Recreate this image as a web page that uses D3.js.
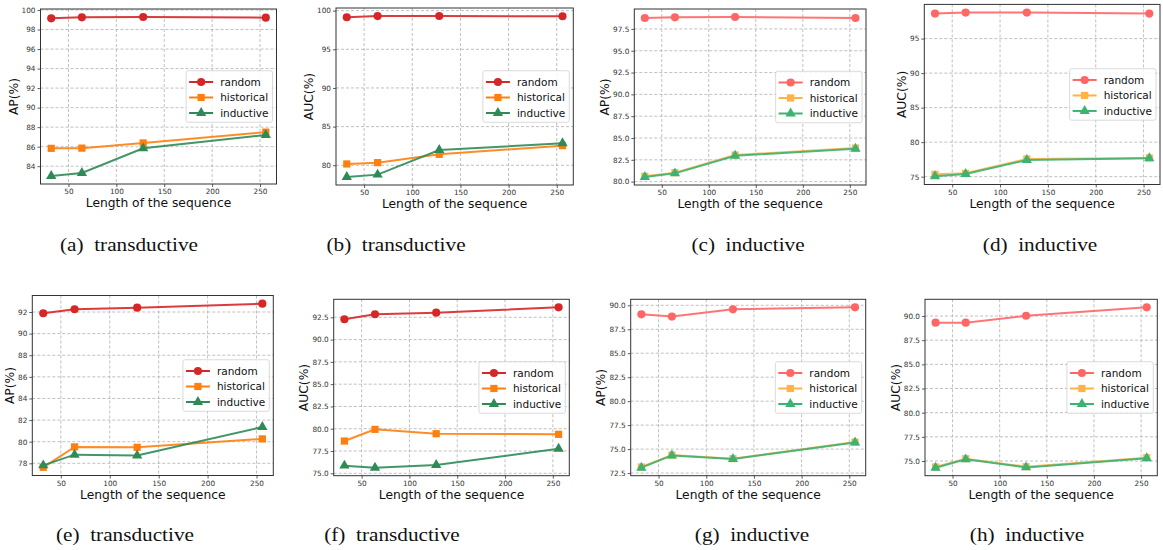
<!DOCTYPE html>
<html>
<head>
<meta charset="utf-8">
<script src="https://cdn.jsdelivr.net/npm/d3@7"></script>
<style>
  html, body { margin: 0; padding: 0; background: #fff; }
  svg { display: block; }
</style>
</head>
<body>
<svg id="chart" width="1163" height="550"></svg>
<script>
// ---------------- DATA ----------------
const seqLen = [32, 64, 128, 256];
const seriesNames = ["random", "historical", "inductive"];
const xTicks = [50, 100, 150, 200, 250];

const a_random = [99.15, 99.25, 99.29, 99.22];
const a_historical = [85.83, 85.85, 86.38, 87.49];
const a_inductive = [82.99, 83.30, 85.83, 87.19];
const a_yticks = [84, 86, 88, 90, 92, 94, 96, 98, 100];

const b_random = [99.14, 99.29, 99.30, 99.27];
const b_historical = [80.17, 80.34, 81.42, 82.54];
const b_inductive = [78.49, 78.79, 81.98, 82.84];
const b_yticks = [80, 85, 90, 95, 100];

const c_random = [98.76, 98.83, 98.87, 98.76];
const c_historical = [80.61, 81.03, 83.05, 83.85];
const c_inductive = [80.53, 80.95, 82.97, 83.77];
const c_yticks = [80.0, 82.5, 85.0, 87.5, 90.0, 92.5, 95.0, 97.5];

const d_random = [98.62, 98.77, 98.77, 98.62];
const d_historical = [75.34, 75.48, 77.56, 77.71];
const d_inductive = [75.05, 75.39, 77.42, 77.66];
const d_yticks = [75, 80, 85, 90, 95];

const e_random = [91.88, 92.25, 92.40, 92.77];
const e_historical = [77.63, 79.52, 79.48, 80.26];
const e_inductive = [77.81, 78.80, 78.73, 81.36];
const e_yticks = [78, 80, 82, 84, 86, 88, 90, 92];

const f_random = [92.28, 92.84, 93.02, 93.62];
const f_historical = [78.62, 79.93, 79.44, 79.37];
const f_inductive = [75.86, 75.63, 75.93, 77.76];
const f_yticks = [75.0, 77.5, 80.0, 82.5, 85.0, 87.5, 90.0, 92.5];

const g_random = [89.06, 88.82, 89.58, 89.79];
const g_historical = [73.13, 74.38, 74.00, 75.73];
const g_inductive = [73.06, 74.34, 73.96, 75.69];
const g_yticks = [72.5, 75.0, 77.5, 80.0, 82.5, 85.0, 87.5, 90.0];

const h_random = [89.31, 89.31, 90.03, 90.90];
const h_historical = [74.38, 75.24, 74.41, 75.34];
const h_inductive = [74.31, 75.17, 74.34, 75.28];
const h_yticks = [75.0, 77.5, 80.0, 82.5, 85.0, 87.5, 90.0];

const captions = ["(a)", "(b)", "(c)", "(d)", "(e)", "(f)", "(g)", "(h)"];
const settings = ["transductive", "transductive", "inductive", "inductive",
                  "transductive", "transductive", "inductive", "inductive"];
const metrics = ["AP(%)", "AUC(%)", "AP(%)", "AUC(%)", "AP(%)", "AUC(%)", "AP(%)", "AUC(%)"];
const xTitle = "Length of the sequence";

// ---------------- STYLE / LAYOUT ----------------
const palettes = {
  dark:  { random: "#d62728", historical: "#ff7f0e", inductive: "#2e8b57" },
  light: { random: "#ff6666", historical: "#ffb347", inductive: "#3cb371" }
};
const markers = { random: d3.symbolCircle, historical: d3.symbolSquare, inductive: d3.symbolTriangle };
const markerSize = { random: 52, historical: 52, inductive: 46 };

const panels = [
  { data: [a_random, a_historical, a_inductive], yticks: a_yticks, fmt: "d",   pal: "dark",  rect: [40.5, 9, 276.5, 184],   cap: [129, 251] },
  { data: [b_random, b_historical, b_inductive], yticks: b_yticks, fmt: "d",   pal: "dark",  rect: [336, 8, 573.3, 185],    cap: [396, 251] },
  { data: [c_random, c_historical, c_inductive], yticks: c_yticks, fmt: ".1f", pal: "light", rect: [634.3, 9, 866, 185],    cap: [748, 251] },
  { data: [d_random, d_historical, d_inductive], yticks: d_yticks, fmt: "d",   pal: "light", rect: [924.3, 4.4, 1160, 184.5], cap: [1040, 251] },
  { data: [e_random, e_historical, e_inductive], yticks: e_yticks, fmt: "d",   pal: "dark",  rect: [32.3, 295.5, 273.3, 475.5], cap: [125, 541] },
  { data: [f_random, f_historical, f_inductive], yticks: f_yticks, fmt: ".1f", pal: "dark",  rect: [333.7, 299.3, 569.3, 475.7], cap: [392, 541] },
  { data: [g_random, g_historical, g_inductive], yticks: g_yticks, fmt: ".1f", pal: "light", rect: [630.7, 299.3, 865.7, 475.7], cap: [752, 541] },
  { data: [h_random, h_historical, h_inductive], yticks: h_yticks, fmt: ".1f", pal: "light", rect: [925, 299.3, 1157.3, 475.7],  cap: [1027, 541] }
];

const svg = d3.select("#chart");
const sans = "'DejaVu Sans', sans-serif";

function autoDomain(vals) {
  const [lo, hi] = d3.extent(vals);
  const m = (hi - lo) * 0.05;
  return [lo - m, hi + m];
}

panels.forEach((p, i) => {
  const [x0, y0, x1, y1] = p.rect;
  const colors = palettes[p.pal];
  const x = d3.scaleLinear().domain(autoDomain(seqLen)).range([x0, x1]);
  const y = d3.scaleLinear().domain(autoDomain(p.data.flat())).range([y1, y0]);
  const g = svg.append("g");

  // grid
  g.append("g").selectAll("line").data(p.yticks).join("line")
    .attr("x1", x0).attr("x2", x1).attr("y1", d => y(d)).attr("y2", d => y(d))
    .attr("stroke", "#b0b0b0").attr("stroke-width", 0.8).attr("stroke-dasharray", "3,2");
  g.append("g").selectAll("line").data(xTicks).join("line")
    .attr("y1", y0).attr("y2", y1).attr("x1", d => x(d)).attr("x2", d => x(d))
    .attr("stroke", "#b0b0b0").attr("stroke-width", 0.8).attr("stroke-dasharray", "3,2");

  // axes
  const xa = g.append("g").attr("transform", `translate(0,${y1})`)
    .call(d3.axisBottom(x).tickValues(xTicks).tickSize(3).tickPadding(2).tickFormat(d3.format("d")));
  const ya = g.append("g").attr("transform", `translate(${x0},0)`)
    .call(d3.axisLeft(y).tickValues(p.yticks).tickSize(3).tickPadding(2).tickFormat(d3.format(p.fmt)));
  [xa, ya].forEach(ax => {
    ax.select(".domain").remove();
    ax.selectAll(".tick line").attr("stroke", "#333").attr("stroke-width", 0.8);
    ax.selectAll(".tick text").attr("fill", "#333").style("font-family", sans).style("font-size", "7.3px");
  });

  // frame
  g.append("rect").attr("x", x0).attr("y", y0).attr("width", x1 - x0).attr("height", y1 - y0)
    .attr("fill", "none").attr("stroke", "#333").attr("stroke-width", 1);

  // series
  const line = d3.line().x((d, k) => x(seqLen[k])).y(d => y(d));
  seriesNames.forEach((s, si) => {
    const vals = p.data[si];
    g.append("path").datum(vals).attr("d", line)
      .attr("fill", "none").attr("stroke", colors[s]).attr("stroke-width", 2).attr("stroke-opacity", 0.9);
    g.append("g").selectAll("path").data(vals).join("path")
      .attr("transform", (d, k) => `translate(${x(seqLen[k])},${y(d)})`)
      .attr("d", d3.symbol().type(markers[s]).size(markerSize[s]))
      .attr("fill", colors[s]);
  });

  // axis titles
  g.append("text").attr("x", (x0 + x1) / 2).attr("y", y1 + 23)
    .attr("text-anchor", "middle").style("font-family", sans).style("font-size", "12.3px").attr("fill", "#111")
    .text(xTitle);
  let maxW = 0;
  ya.selectAll(".tick text").each(function () { maxW = Math.max(maxW, this.getComputedTextLength()); });
  const lx = x0 - 3 - 2 - maxW - 4;
  g.append("text").attr("transform", `translate(${lx},${(y0 + y1) / 2}) rotate(-90)`)
    .attr("text-anchor", "middle").style("font-family", sans).style("font-size", "12.3px").attr("fill", "#111")
    .text(metrics[i]);

  // legend (center right)
  const lg = g.append("g");
  const rowH = 15.5, fs = 10.5;
  const texts = seriesNames.map((s, si) => lg.append("text").text(s)
    .style("font-family", sans).style("font-size", fs + "px").attr("fill", "#111"));
  let tw = 0; texts.forEach(t => tw = Math.max(tw, t.node().getComputedTextLength()));
  const bw = 3 + 24 + 7 + tw + 4, bh = rowH * 3 + 5;
  const bx = x1 - 4 - bw, by = (y0 + y1) / 2 - bh / 2;
  lg.insert("rect", ":first-child").attr("x", bx).attr("y", by).attr("width", bw).attr("height", bh)
    .attr("rx", 2).attr("fill", "#fff").attr("fill-opacity", 0.85).attr("stroke", "#d0d0d0").attr("stroke-width", 0.8);
  seriesNames.forEach((s, si) => {
    const cy = by + 2.5 + rowH * (si + 0.5) + 1;
    lg.append("line").attr("x1", bx + 3).attr("x2", bx + 27).attr("y1", cy).attr("y2", cy)
      .attr("stroke", colors[s]).attr("stroke-width", 2);
    lg.append("path").attr("transform", `translate(${bx + 15},${cy})`)
      .attr("d", d3.symbol().type(markers[s]).size(markerSize[s])).attr("fill", colors[s]);
    texts[si].attr("x", bx + 34).attr("y", cy + 3.8);
  });

  // caption
  const cap = svg.append("text")
    .attr("transform", `translate(${p.cap[0]},${p.cap[1]}) scale(1.18,1)`)
    .attr("text-anchor", "middle").style("font-family", "'Liberation Serif', serif").style("font-size", "18px")
    .attr("fill", "#111");
  cap.append("tspan").text(captions[i] + "\u00a0\u00a0" + settings[i]);
});
</script>
</body>
</html>
